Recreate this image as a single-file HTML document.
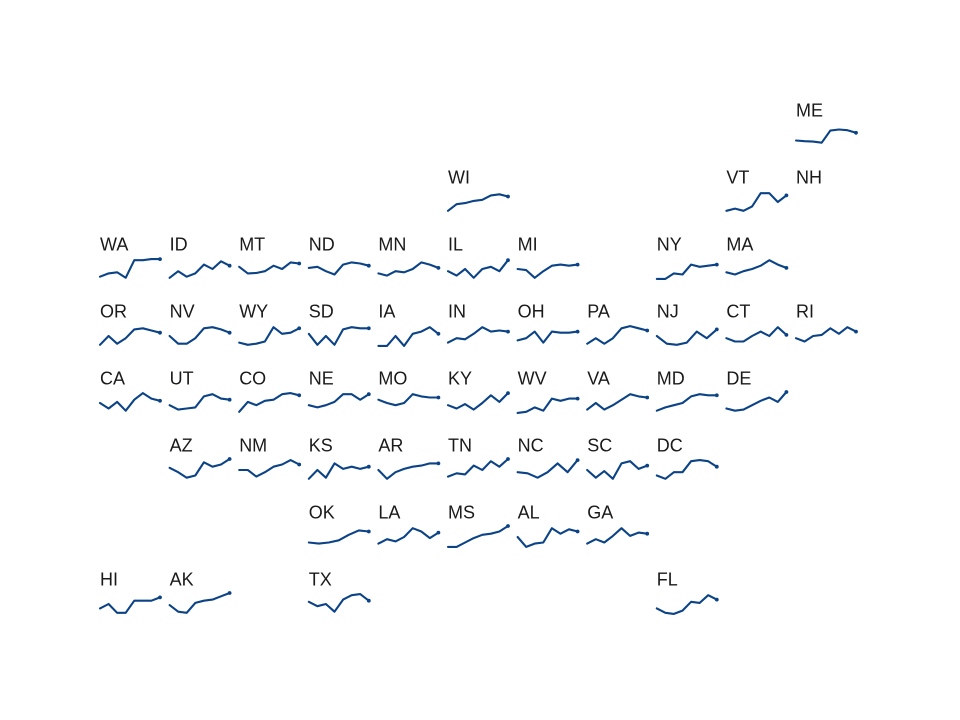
<!DOCTYPE html>
<html><head><meta charset="utf-8"><style>
html,body{margin:0;padding:0;background:#fff;}
svg{display:block}
text{font-family:"Liberation Sans",sans-serif;font-size:18px;fill:#1a1a1a;}
</style></head><body>
<svg id="s" width="960" height="720" xmlns="http://www.w3.org/2000/svg"></svg>
<script>
var D=[
["ME",10,0,[0.75,0.78,0.8,0.85,0.3,0.25,0.28,0.4]],
["WI",5,1,[0.9,0.6,0.55,0.45,0.4,0.2,0.15,0.25]],
["VT",9,1,[0.9,0.8,0.9,0.7,0.1,0.1,0.5,0.2]],
["NH",10,1,null],
["WA",0,2,[0.85,0.7,0.65,0.9,0.1,0.1,0.05,0.05]],
["ID",1,2,[0.9,0.6,0.85,0.7,0.3,0.5,0.15,0.35]],
["MT",2,2,[0.4,0.7,0.68,0.6,0.35,0.5,0.2,0.25]],
["ND",3,2,[0.45,0.4,0.6,0.75,0.3,0.2,0.25,0.35]],
["MN",4,2,[0.7,0.8,0.6,0.65,0.5,0.2,0.3,0.45]],
["IL",5,2,[0.6,0.8,0.5,0.9,0.5,0.4,0.6,0.1]],
["MI",6,2,[0.5,0.55,0.9,0.6,0.35,0.3,0.35,0.3]],
["NY",8,2,[0.95,0.95,0.7,0.75,0.3,0.4,0.35,0.3]],
["MA",9,2,[0.65,0.75,0.6,0.5,0.35,0.1,0.3,0.45]],
["OR",0,3,[0.9,0.5,0.85,0.6,0.2,0.15,0.25,0.35]],
["NV",1,3,[0.5,0.85,0.85,0.6,0.15,0.1,0.2,0.35]],
["WY",2,3,[0.8,0.9,0.85,0.75,0.1,0.4,0.35,0.15]],
["SD",3,3,[0.4,0.9,0.5,0.9,0.2,0.1,0.15,0.15]],
["IA",4,3,[0.95,0.95,0.5,0.95,0.4,0.3,0.1,0.4]],
["IN",5,3,[0.8,0.6,0.65,0.4,0.1,0.3,0.25,0.3]],
["OH",6,3,[0.7,0.6,0.3,0.8,0.3,0.35,0.35,0.3]],
["PA",7,3,[0.85,0.6,0.85,0.6,0.15,0.05,0.15,0.25]],
["NJ",8,3,[0.5,0.85,0.9,0.8,0.3,0.6,0.2]],
["CT",9,3,[0.6,0.75,0.75,0.5,0.3,0.5,0.1,0.45]],
["RI",10,3,[0.6,0.75,0.5,0.45,0.15,0.4,0.1,0.3]],
["CA",0,4,[0.5,0.75,0.45,0.85,0.35,0.05,0.3,0.4]],
["UT",1,4,[0.6,0.8,0.75,0.7,0.2,0.1,0.3,0.35]],
["CO",2,4,[0.9,0.45,0.6,0.4,0.35,0.1,0.05,0.15]],
["NE",3,4,[0.6,0.7,0.6,0.45,0.1,0.1,0.35,0.1]],
["MO",4,4,[0.35,0.5,0.6,0.5,0.1,0.2,0.25,0.25]],
["KY",5,4,[0.6,0.75,0.55,0.8,0.5,0.15,0.45,0.05]],
["WV",6,4,[0.95,0.9,0.7,0.85,0.3,0.4,0.3,0.3]],
["VA",7,4,[0.8,0.5,0.8,0.6,0.35,0.1,0.2,0.25]],
["MD",8,4,[0.85,0.7,0.6,0.5,0.2,0.1,0.15,0.15]],
["DE",9,4,[0.75,0.85,0.8,0.6,0.4,0.25,0.45,0.0]],
["AZ",1,5,[0.4,0.6,0.85,0.75,0.15,0.35,0.25,0.0]],
["NM",2,5,[0.5,0.5,0.8,0.6,0.35,0.25,0.05,0.25]],
["KS",3,5,[0.9,0.5,0.85,0.2,0.45,0.35,0.45,0.35]],
["AR",4,5,[0.5,0.9,0.6,0.45,0.35,0.3,0.2,0.2]],
["TN",5,5,[0.8,0.65,0.7,0.3,0.5,0.1,0.35,0.0]],
["NC",6,5,[0.6,0.65,0.85,0.6,0.2,0.6,0.05]],
["SC",7,5,[0.5,0.85,0.55,0.9,0.2,0.1,0.45,0.3]],
["DC",8,5,[0.75,0.9,0.6,0.6,0.1,0.05,0.1,0.35]],
["OK",3,6,[0.75,0.8,0.75,0.65,0.4,0.2,0.25]],
["LA",4,6,[0.8,0.6,0.7,0.5,0.1,0.25,0.55,0.3]],
["MS",5,6,[0.95,0.95,0.75,0.55,0.4,0.35,0.25,0.0]],
["AL",6,6,[0.5,0.95,0.8,0.75,0.1,0.35,0.15,0.25]],
["GA",7,6,[0.8,0.6,0.75,0.45,0.1,0.45,0.3,0.35]],
["HI",0,7,[0.7,0.5,0.9,0.9,0.35,0.35,0.35,0.2]],
["AK",1,7,[0.55,0.85,0.9,0.45,0.35,0.3,0.15,0.0]],
["TX",3,7,[0.4,0.6,0.5,0.85,0.3,0.1,0.05,0.35]],
["FL",8,7,[0.7,0.9,0.95,0.8,0.4,0.45,0.1,0.3]]
];
var h="";
D.forEach(function(d){
 var x0=100+69.6*d[1], cy=111+67*d[2];
 h+='<text x="'+x0.toFixed(1)+'" y="'+(cy+5.5)+'">'+d[0]+'</text>';
 var v=d[3]; if(!v) return;
 var pts=[],n=v.length;
 for(var i=0;i<n;i++){pts.push((x0+60*i/(n-1)).toFixed(1)+','+(cy+13+22*v[i]).toFixed(1));}
 h+='<polyline points="'+pts.join(' ')+'" fill="none" stroke="#0b4386" stroke-width="2.1" stroke-linejoin="round" stroke-linecap="round"/>';
 var l=pts[n-1].split(',');
 h+='<circle cx="'+l[0]+'" cy="'+l[1]+'" r="1.9" fill="#0b4386"/>';
});
document.getElementById('s').innerHTML=h;
</script>
</body></html>
